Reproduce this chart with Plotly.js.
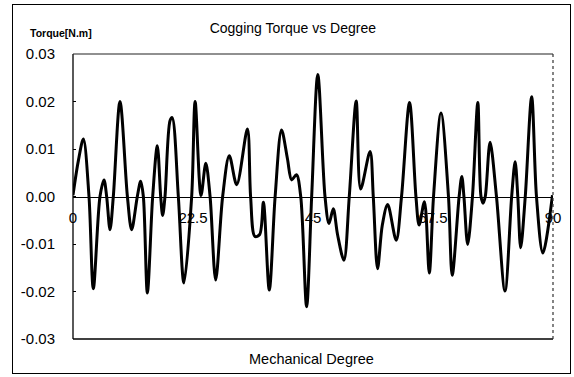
<!DOCTYPE html>
<html>
<head>
<meta charset="utf-8">
<script src="https://cdn.plot.ly/plotly-3.0.1.min.js"></script>
<style>
  html, body { margin: 0; padding: 0; background: #fff; }
  #wrap { position: relative; width: 574px; height: 377px; }
  #chart { position: absolute; left: 0; top: 0; width: 574px; height: 377px; }
  #frame { position: absolute; left: 12px; top: 4px; width: 559px; height: 370px;
           border: 1.5px solid #000; box-sizing: border-box; pointer-events: none; }
</style>
</head>
<body>
<div id="wrap">
  <div id="chart"></div>
  <div id="frame"></div>
</div>
<script>
// Mechanical degree (x) and cogging torque in N.m (y)
const degree = [
  0, 1.0, 1.94, 3.0, 3.81, 5.06, 5.81, 6.31, 6.94, 7.56, 8.81, 10.2, 10.99, 12.06, 12.69,
  13.19, 13.94, 14.94, 15.81, 16.44, 16.81, 17.25, 18.2, 18.6, 19.75, 20.8, 22.25, 22.9,
  24.0, 24.9, 25.7, 26.75, 28.06, 29.3, 30.7, 32.7, 33.3, 34.1, 35.0, 35.7, 36.8, 37.9,
  39.1, 40.2, 41.0, 41.9, 42.7, 43.8, 44.75, 45.9, 47.25, 48.0, 48.8, 49.6, 50.8, 51.8,
  53.1, 53.94, 55.7, 56.3, 57.1, 58.0, 59.0, 60.6, 61.6, 63.1, 64.3, 64.9, 65.9, 66.8,
  67.6, 69.0, 70.4, 71.1, 72.4, 72.9, 73.3, 74.0, 74.9, 75.9, 76.5, 76.9, 77.3, 78.2,
  79.4, 81.0, 82.25, 82.9, 83.4, 83.94, 84.8, 86.0, 86.9, 88.1, 89.9
];
const torque = [
  0.0003, 0.0075, 0.0121, 0, -0.0194, 0, 0.0035, 0, -0.0070, 0, 0.0200, 0, -0.0070, 0, 0.0032,
  0, -0.0203, 0, 0.0107, 0, -0.0040, 0, 0.0160, 0.0166, 0, -0.0182, 0, 0.0200,
  0.0002, 0.0070, 0, -0.0176, 0, 0.0086, 0.0025, 0.0142, 0, -0.0084, -0.0080, -0.0012, -0.0197, 0,
  0.0140, 0.0080, 0.0035, 0.0046, 0, -0.0232, 0, 0.0257, 0, -0.0057, -0.0026, -0.0080, -0.0134, 0,
  0.0201, 0.0016, 0.0095, 0, -0.0152, -0.0060, -0.0017, -0.0092, 0, 0.0198, 0, -0.0060, -0.0011, -0.0161,
  0, 0.0176, 0, -0.0166, 0, 0.0042, 0, -0.0101, 0, 0.0198, 0, -0.0014, 0, 0.0114,
  0, -0.0199, 0, 0.0073, 0, -0.0108, 0, 0.0210, 0, -0.0119, 0.0003
];
const xTicks = [0, 22.5, 45, 67.5, 90];
const xTickText = ['0', '22.5', '45', '67.5', '90'];
const yTicks = [-0.03, -0.02, -0.01, 0, 0.01, 0.02, 0.03];
const yTickText = ['-0.03', '-0.02', '-0.01', '0.00', '0.01', '0.02', '0.03'];

const font = 'Arial, "Liberation Sans", sans-serif';

const trace = {
  x: degree, y: torque, type: 'scatter', mode: 'lines',
  line: { color: '#000', width: 3, shape: 'spline', smoothing: 0.9 },
  hoverinfo: 'skip'
};

const layout = {
  width: 574, height: 377,
  margin: { l: 73, r: 21, t: 54, b: 38 },
  paper_bgcolor: '#fff', plot_bgcolor: '#fff',
  showlegend: false,
  font: { family: font, color: '#000', size: 14 },
  title: {
    text: 'Cogging Torque vs Degree',
    font: { family: font, size: 14, color: '#000' },
    xref: 'paper', x: 0.458, xanchor: 'center',
    yref: 'container', y: 1 - 28 / 377, yanchor: 'middle'
  },
  xaxis: {
    range: [0, 90], anchor: 'free', position: 0.5,
    showgrid: false, zeroline: false,
    showline: true, linecolor: '#000', linewidth: 1.6,
    tickmode: 'array', tickvals: xTicks, ticktext: xTickText,
    ticks: '', ticklabelstandoff: 7,
    tickfont: { family: font, size: 15, color: '#000' }
  },
  yaxis: {
    range: [-0.03, 0.03],
    showgrid: false, zeroline: false,
    showline: false,
    tickmode: 'array', tickvals: yTicks, ticktext: yTickText,
    ticks: 'inside', ticklen: 3, tickcolor: '#000',
    ticklabelstandoff: 17,
    tickfont: { family: font, size: 15, color: '#000' }
  },
  shapes: [
    { type: 'line', xref: 'paper', yref: 'paper', x0: 0, x1: 0, y0: 0, y1: 1, line: { color: '#000', width: 1.3 } },
    { type: 'line', xref: 'paper', yref: 'paper', x0: 0, x1: 1, y0: 0, y1: 0, line: { color: '#000', width: 1.3 } },
    { type: 'line', xref: 'paper', yref: 'paper', x0: 0, x1: 1, y0: 1, y1: 1, line: { color: '#222', width: 1.2 } },
    { type: 'line', xref: 'paper', yref: 'paper', x0: 1, x1: 1, y0: 0, y1: 1, line: { color: '#333', width: 1.2, dash: 'dot' } }
  ],
  annotations: [
    { text: '<b>Torque[N.m]</b>', xref: 'paper', yref: 'paper',
      x: (28 - 73) / 480, xanchor: 'left', y: (339 - 33) / 285, yanchor: 'middle',
      showarrow: false, font: { family: font, size: 10.5, color: '#000' } },
    { text: 'Mechanical Degree', xref: 'paper', yref: 'paper',
      x: 0.497, xanchor: 'center', y: (339 - 359) / 285, yanchor: 'middle',
      showarrow: false, font: { family: font, size: 14.5, color: '#000' } }
  ]
};

Plotly.newPlot('chart', [trace], layout, { displayModeBar: false, staticPlot: true });
</script>
</body>
</html>
